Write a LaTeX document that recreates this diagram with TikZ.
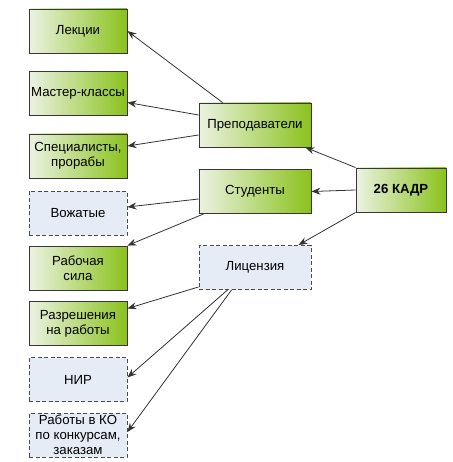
\documentclass[tikz,border=0pt]{standalone}
\usepackage{fontspec}
\setmainfont{Liberation Sans}
\usetikzlibrary{arrows.meta}
\definecolor{boxgreen}{RGB}{138,194,28}
\definecolor{boxlight}{RGB}{236,242,226}
\definecolor{boxblue}{RGB}{230,236,246}
\definecolor{edgegray}{RGB}{55,55,55}
\begin{document}
\begin{tikzpicture}[x=1pt, y=-1pt, line width=0.6pt,
  box/.style={line width=0.9pt, minimum width=98pt, minimum height=44pt, inner sep=1pt,
    align=center, font=\fontsize{13.2}{15}\selectfont},
  greenbox/.style={box, draw=edgegray, left color=boxlight, right color=boxgreen},
  dashbox/.style={box, draw=edgegray!90, fill=boxblue, dash pattern=on 4pt off 2.5pt},
  link/.style={draw=black!80, line width=0.8pt, -{Stealth[length=9pt,width=7pt,inset=3pt]}}]
  \useasboundingbox (0,0) rectangle (452,462);
  \node[greenbox] (lek) at (78,31) {Лекции};
  \node[greenbox] (mk) at (78,93.5) {Мастер-классы};
  \node[greenbox] (spec) at (78,156) {Специалисты,\\прорабы};
  \node[dashbox] (vozh) at (78,213) {Вожатые};
  \node[greenbox] (rab) at (78,268) {Рабочая\\сила};
  \node[greenbox] (razr) at (78,323.5) {Разрешения\\на работы};
  \node[dashbox] (nir) at (78,379.5) {НИР};
  \node[dashbox, inner sep=0pt, minimum height=44pt] (konk) at (78,435) {Работы в КО\\по конкурсам,\\заказам};
  \node[greenbox, minimum width=112pt] (prep) at (255,125) {Преподаватели};
  \node[greenbox, minimum width=112pt] (stud) at (255,191.5) {Студенты};
  \node[dashbox, minimum width=112pt] (lic) at (255,267.5) {Лицензия};
  \node[greenbox, minimum width=90pt, font=\fontsize{13.2}{15}\selectfont\bfseries] (kadr) at (401,190) {26 КАДР};
  \draw[link] ([xshift=24pt]prep.north west) -- (lek.east);
  \draw[link] ([yshift=10pt]prep.west) -- ([yshift=-9pt]mk.east);
  \draw[link] ([yshift=-10pt]prep.west) -- ([yshift=10pt]spec.east);
  \draw[link] ([yshift=-7.5pt]stud.west) -- ([yshift=6pt]vozh.east);
  \draw[link] ([xshift=5pt]stud.south west) -- (rab.north east);
  \draw[link] ([yshift=3pt]lic.south west) -- ([yshift=15pt]razr.east);
  \draw[link] ([xshift=29pt]lic.south west) -- ([yshift=2pt]nir.east);
  \draw[link] ([xshift=33pt]lic.south west) -- ([yshift=3pt]konk.east);
  \draw[link] (kadr.north west) -- ([xshift=-6pt]prep.south east);
  \draw[link] (kadr.west) -- (stud.east);
  \draw[link] (kadr.south west) -- ([xshift=-13pt]lic.north east);
\end{tikzpicture}
\end{document}
